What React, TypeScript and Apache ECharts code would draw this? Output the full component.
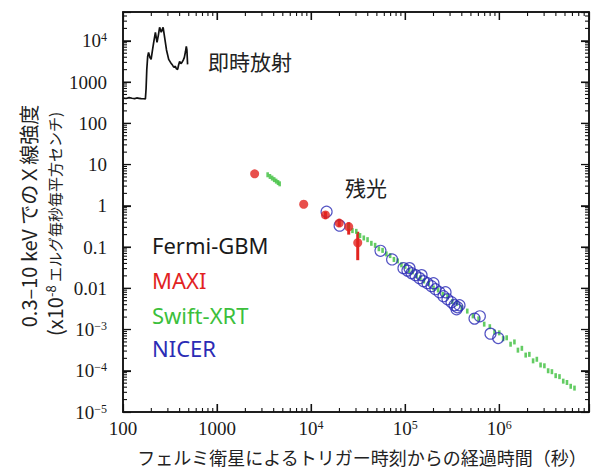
import React, { useEffect, useRef } from "react";
import * as echarts from "echarts";

// ---- Data ----
const gbmTime = [100, 108, 116, 125, 133, 140, 148, 156, 165, 173, 176, 179, 183, 187, 193, 199, 206, 212, 221, 230, 238, 245, 255, 262, 267, 277, 290, 306, 320, 332, 346, 360, 370, 381, 390, 400, 412, 424, 437, 449, 462, 471, 478, 486];
const gbmFlux = [410, 400, 418, 405, 398, 412, 404, 396, 394, 392, 700, 2000, 4200, 5250, 4000, 3550, 6000, 9200, 16100, 9200, 14000, 21300, 16100, 19000, 21300, 12200, 6000, 3550, 3000, 2680, 2300, 2400, 2100, 2030, 2600, 3170, 2800, 3000, 3400, 3970, 5500, 7350, 6000, 2680];

const maxiTime = [2510, 8340, 14200, 19900, 25100, 31300];
const maxiFlux = [5.97, 1.09, 0.6, 0.38, 0.31, 0.127];
const maxiLow = [5.97, 1.09, 0.48, 0.31, 0.2, 0.048];
const maxiHigh = [5.97, 1.09, 0.72, 0.48, 0.4, 0.235];

const swiftTime = [3450, 3650, 3850, 4050, 4250, 4450, 4630,
  25100, 27500, 30200, 33100, 36300, 39800, 43700, 47900, 52500, 57500, 63100, 69200, 75900, 83200, 91200,
  100000, 110000, 120000, 132000, 145000, 158000, 178000, 200000, 224000, 251000, 282000, 316000, 355000, 398000,
  457000, 525000, 603000, 692000, 794000, 891000, 1000000, 1100000, 1200000, 1320000, 1450000, 1580000, 1740000,
  1910000, 2090000, 2290000, 2510000, 2750000, 3020000, 3310000, 3630000, 3980000, 4370000, 4790000, 5250000, 5750000, 6310000];
const swiftFlux = [5.65, 5.14, 4.7, 4.31, 3.96, 3.66, 3.41,
  0.316, 0.25, 0.24, 0.19, 0.166, 0.151, 0.123, 0.11, 0.091, 0.083, 0.068, 0.062, 0.05, 0.046, 0.037,
  0.034, 0.027, 0.025, 0.02, 0.018, 0.015, 0.0132, 0.0102, 0.0091, 0.0071, 0.0063, 0.0048, 0.0043, 0.0034,
  0.0028, 0.00214, 0.00182, 0.00135, 0.00117, 0.00087, 0.00083, 0.0006, 0.00063, 0.00044, 0.0005, 0.000316, 0.00035,
  0.00024, 0.00025, 0.000174, 0.00019, 0.000138, 0.000132, 0.0001, 0.000095, 0.000076, 0.000072, 0.000056, 0.000052, 0.000042, 0.000038];

const nicerTime = [14600, 20100, 54600, 72600, 95900, 105700, 111200, 116700, 128800, 142000, 149300, 156700, 172600, 190500, 200000, 209900, 231700, 255400, 268500, 281800, 311000, 334400, 351600, 359700, 378000, 546000, 622000, 807000, 975000];
const nicerFlux = [0.72, 0.33, 0.081, 0.05, 0.0308, 0.0268, 0.0308, 0.0233, 0.0208, 0.0176, 0.0208, 0.0149, 0.0133, 0.01125, 0.0133, 0.0095, 0.008, 0.00643, 0.008, 0.00543, 0.00459, 0.00388, 0.0031, 0.00347, 0.00388, 0.00184, 0.00209, 0.000794, 0.00062];

const X_MIN = 100;
const X_MAX = 9e6;
const Y_MIN = 1e-5;
const Y_MAX = 5e4;

const legendItems = ["Fermi-GBM", "MAXI", "Swift-XRT", "NICER"];
const legendColors = ["#1a1a1a", "#e2231f", "#3cbf3c", "#2b2bb5"];

const AXIS_COLOR = "#111111";
const SERIF = "'Liberation Serif', 'Times New Roman', serif";
const SANS = "'Noto Sans', 'Noto Sans CJK JP', sans-serif";
const JP = "'Noto Sans CJK JP', 'Noto Sans', sans-serif";

function tickValues(lo: number, hi: number): number[] {
  const out: number[] = [];
  for (let k = Math.floor(Math.log10(lo)); k <= Math.ceil(Math.log10(hi)); k++) {
    for (let m = 1; m <= 9; m++) {
      const v = m * Math.pow(10, k);
      if (v > lo * 1.000001 && v < hi * 0.999999) out.push(v);
    }
  }
  return out;
}

function expOf(v: number): number | null {
  const e = Math.log10(v);
  const r = Math.round(e);
  return Math.abs(e - r) < 1e-6 ? r : null;
}

function yLabel(v: number): string {
  const e = expOf(v);
  if (e === null) return "";
  if (e === 3) return "{b|1000}";
  if (e === 2) return "{b|100}";
  if (e === 1) return "{b|10}";
  if (e === 0) return "{b|1}";
  if (e === -1) return "{b|0.1}";
  if (e === -2) return "{b|0.01}";
  return "{b|10}{s|" + (e < 0 ? "\u2212" + -e : String(e)) + "}";
}

function xLabel(v: number): string {
  const e = expOf(v);
  if (e === null) return "";
  if (e === 2) return "{b|100}";
  if (e === 3) return "{b|1000}";
  return "{b|10}{s|" + e + "}";
}

function makeRich() {
  return {
    b: { fontFamily: SERIF, fontSize: 19, color: "#1a1a1a" },
    s: { fontFamily: SERIF, fontSize: 12, color: "#1a1a1a", verticalAlign: "top" },
  };
}

function makeAxis(kind: "x" | "y", position: string, labels: boolean) {
  return {
    type: "log",
    logBase: 10,
    position,
    min: kind === "x" ? X_MIN : Y_MIN,
    max: kind === "x" ? X_MAX : Y_MAX,
    interval: 1,
    splitLine: { show: false },
    axisLine: { show: true, onZero: false, lineStyle: { color: AXIS_COLOR, width: 1.5 } },
    axisTick: { show: true, inside: true, length: 8, lineStyle: { color: AXIS_COLOR, width: 1.2 } },
    axisLabel: labels
      ? kind === "x"
        ? { show: true, margin: 7, formatter: xLabel, rich: makeRich() }
        : { show: true, margin: 16, formatter: yLabel, rich: makeRich(), align: "right" }
      : { show: false },
  };
}

export default function App() {
  const ref = useRef<HTMLDivElement>(null);

  useEffect(() => {
    if (!ref.current) return;
    const chart = echarts.init(ref.current, undefined, { renderer: "svg" });

    const xTicks = tickValues(X_MIN, X_MAX);
    const yTicks = tickValues(Y_MIN, Y_MAX);

    const option: any = {
      animation: false,
      backgroundColor: "#fff",
      grid: { left: 123, right: 6, top: 12, bottom: 58 },
      xAxis: [makeAxis("x", "bottom", true), makeAxis("x", "top", false)],
      yAxis: [makeAxis("y", "left", true), makeAxis("y", "right", false)],
      series: [
        {
          type: "line",
          data: gbmTime.map((t, i) => [t, gbmFlux[i]]),
          showSymbol: false,
          lineStyle: { color: "#111", width: 1.7 },
        },
        {
          type: "scatter",
          data: swiftTime.map((t, i) => [t, swiftFlux[i]]),
          symbol: "rect",
          symbolSize: [2.6, 5],
          itemStyle: { color: legendColors[2] },
        },
        {
          type: "scatter",
          data: nicerTime.map((t, i) => [t, nicerFlux[i]]),
          symbol: "circle",
          symbolSize: 11,
          itemStyle: { color: "rgba(255,255,255,0)", borderColor: legendColors[3], borderWidth: 1.2 },
        },
        {
          type: "custom",
          data: maxiTime.map((t, i) => [t, maxiLow[i], maxiHigh[i]]),
          renderItem: (params: any, api: any) => {
            const p1 = api.coord([api.value(0), api.value(1)]);
            const p2 = api.coord([api.value(0), api.value(2)]);
            return {
              type: "line",
              shape: { x1: p1[0], y1: p1[1], x2: p2[0], y2: p2[1] },
              style: { stroke: legendColors[1], lineWidth: 3 },
            };
          },
        },
        {
          type: "scatter",
          data: maxiTime.map((t, i) => [t, maxiFlux[i]]),
          symbol: "circle",
          symbolSize: 9,
          itemStyle: { color: legendColors[1] },
        },
        // plot frame (drawn last, on top)
        {
          type: "custom",
          silent: true,
          clip: false,
          z: 20,
          data: [[X_MIN, Y_MIN]],
          renderItem: (params: any, api: any) => {
            const cs = params.coordSys;
            return {
              type: "rect",
              shape: { x: cs.x, y: cs.y, width: cs.width, height: cs.height },
              style: { fill: "none", stroke: AXIS_COLOR, lineWidth: 1.5 },
            };
          },
        },
        // x ticks (major and minor) on bottom and top edges
        {
          type: "custom",
          silent: true,
          clip: false,
          z: 20,
          data: xTicks.map((v) => [v, 1]),
          renderItem: (params: any, api: any) => {
            const cs = params.coordSys;
            const v = api.value(0);
            const len = expOf(v) === null ? 4 : 8;
            const px = api.coord([v, 1])[0];
            return {
              type: "group",
              children: [
                { type: "line", shape: { x1: px, y1: cs.y + cs.height, x2: px, y2: cs.y + cs.height - len }, style: { stroke: AXIS_COLOR, lineWidth: 1.1 } },
                { type: "line", shape: { x1: px, y1: cs.y, x2: px, y2: cs.y + len }, style: { stroke: AXIS_COLOR, lineWidth: 1.1 } },
              ],
            };
          },
        },
        // y ticks (major and minor) on left and right edges
        {
          type: "custom",
          silent: true,
          clip: false,
          z: 20,
          data: yTicks.map((v) => [1000, v]),
          renderItem: (params: any, api: any) => {
            const cs = params.coordSys;
            const v = api.value(1);
            const len = expOf(v) === null ? 4 : 8;
            const py = api.coord([1000, v])[1];
            return {
              type: "group",
              children: [
                { type: "line", shape: { x1: cs.x, y1: py, x2: cs.x + len, y2: py }, style: { stroke: AXIS_COLOR, lineWidth: 1.1 } },
                { type: "line", shape: { x1: cs.x + cs.width, y1: py, x2: cs.x + cs.width - len, y2: py }, style: { stroke: AXIS_COLOR, lineWidth: 1.1 } },
              ],
            };
          },
        },
      ],
      graphic: [
        {
          type: "text",
          x: 208,
          y: 61,
          style: { text: "即時放射", font: "21px " + JP, fill: "#222", textVerticalAlign: "middle" },
        },
        {
          type: "text",
          x: 345,
          y: 187,
          style: { text: "残光", font: "21px " + JP, fill: "#222", textVerticalAlign: "middle" },
        },
        ...legendItems.map((name, i) => ({
          type: "text",
          x: 152,
          y: [245, 280, 315, 348][i],
          style: {
            text: name,
            font: "22px " + SANS,
            fill: legendColors[i],
            textVerticalAlign: "middle",
          },
        })),
        {
          type: "text",
          x: 362,
          y: 457,
          style: {
            text: "フェルミ衛星によるトリガー時刻からの経過時間（秒）",
            font: "18px " + JP,
            fill: "#222",
            textAlign: "center",
            textVerticalAlign: "middle",
          },
        },
        {
          type: "text",
          x: 28,
          y: 216,
          rotation: Math.PI / 2,
          style: {
            text: "0.3–10 keV でのＸ線強度",
            font: "20px " + JP,
            fill: "#222",
            textAlign: "center",
            textVerticalAlign: "middle",
          },
        },
        {
          type: "text",
          x: 54,
          y: 224,
          rotation: Math.PI / 2,
          style: {
            text: "{a|(x10}{s|-8}{c| エルグ毎秒毎平方センチ)}",
            textAlign: "center",
            textVerticalAlign: "middle",
            rich: {
              a: { fontFamily: JP, fontSize: 20, fill: "#222" },
              s: { fontFamily: JP, fontSize: 13, fill: "#222", verticalAlign: "top" },
              c: { fontFamily: JP, fontSize: 15, fill: "#222" },
            },
          },
        },
      ],
    };

    chart.setOption(option);
    return () => chart.dispose();
  }, []);

  return <div ref={ref} style={{ position: "absolute", left: 0, top: 0, width: 595, height: 470 }} />;
}
